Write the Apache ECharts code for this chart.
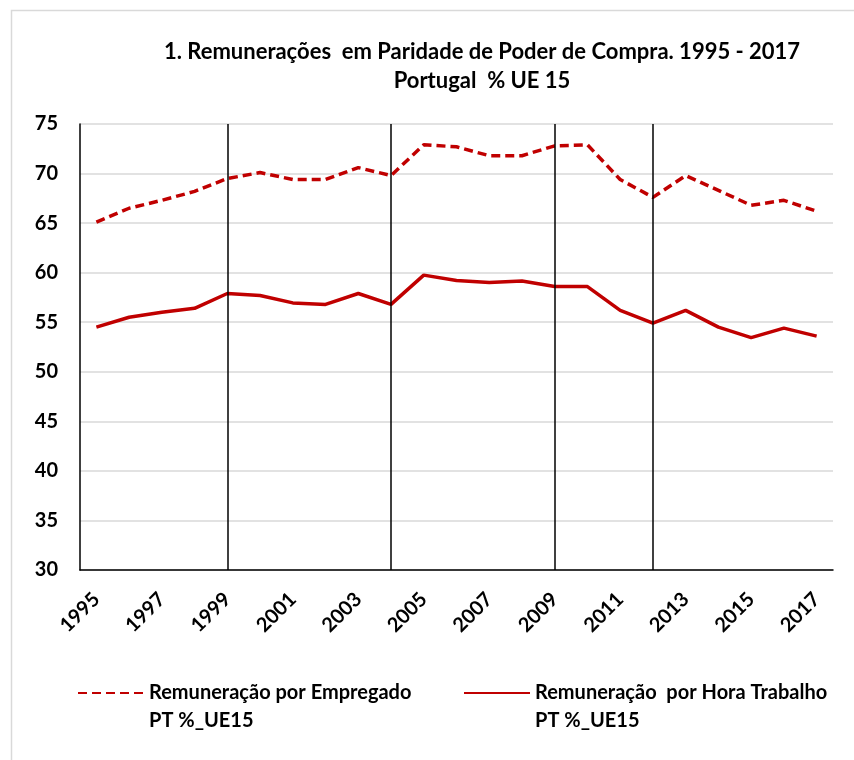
<!DOCTYPE html>
<html>
<head>
<meta charset="utf-8">
<script src="https://cdn.jsdelivr.net/npm/echarts@6/dist/echarts.min.js"></script>
<style>
  html, body { margin: 0; padding: 0; background: #fff; }
  #chart { width: 854px; height: 760px; }
</style>
</head>
<body>
<div id="chart"></div>
<script>
// Remunerações em PPC, Portugal % UE15
var years = ['1995', '1996', '1997', '1998', '1999', '2000', '2001', '2002', '2003', '2004', '2005', '2006',
  '2007', '2008', '2009', '2010', '2011', '2012', '2013', '2014', '2015', '2016', '2017'];
var porEmpregado = [65.1, 66.5, 67.3, 68.2, 69.5, 70.1, 69.4, 69.4, 70.6, 69.8, 72.9, 72.7,
  71.8, 71.8, 72.8, 72.9, 69.4, 67.6, 69.8, 68.3, 66.8, 67.3, 66.2];
var porHora = [54.5, 55.5, 56.0, 56.4, 57.9, 57.7, 56.95, 56.8, 57.9, 56.8, 59.75, 59.2,
  59.0, 59.15, 58.6, 58.6, 56.2, 54.9, 56.2, 54.5, 53.45, 54.4, 53.6];
var marcos = ['1999', '2004', '2009', '2012'];
var nomeEmpregado = 'Remuneração por Empregado\nPT %_UE15';
var nomeHora = 'Remuneração  por Hora Trabalho\nPT %_UE15';

(function () {
  var font = 'Lato, "Open Sans", sans-serif';
  var red = '#c00000';
  var chart = echarts.init(document.getElementById('chart'), null, { renderer: 'canvas' });
  var legendText = { fontFamily: font, fontSize: 20, fontWeight: 'bold', color: '#000', lineHeight: 28 };
  // linha vazia no topo para alinhar o ícone com a primeira linha do texto
  function legendFmt(n) { return '\n' + n; }

  chart.setOption({
    animation: false,
    backgroundColor: '#fff',
    graphic: [{
      type: 'rect', left: 9, top: 8, silent: true,
      shape: { width: 900, height: 800 },
      style: { fill: 'none', stroke: '#d9d9d9', lineWidth: 1.5 }
    }],
    title: {
      text: '1. Remunerações  em Paridade de Poder de Compra. 1995 - 2017\nPortugal  % UE 15',
      left: 477, top: 32, textAlign: 'center',
      textStyle: { fontFamily: font, fontSize: 22, fontWeight: 'bold', color: '#000', lineHeight: 29 }
    },
    legend: [
      { data: [nomeEmpregado], formatter: legendFmt, left: 72, top: 646, itemWidth: 66, itemHeight: 12,
        itemStyle: { opacity: 0 }, textStyle: legendText, selectedMode: false },
      { data: [nomeHora], formatter: legendFmt, left: 458, top: 646, itemWidth: 66, itemHeight: 12,
        itemStyle: { opacity: 0 }, textStyle: legendText, selectedMode: false }
    ],
    grid: { left: 80, right: 21, top: 124, bottom: 190 },
    xAxis: {
      type: 'category', data: years, boundaryGap: true,
      axisLine: { lineStyle: { color: '#000', width: 1.5 } },
      axisTick: { show: false },
      axisLabel: { interval: 1, rotate: 45, margin: 26, fontFamily: font, fontSize: 20, fontWeight: 'bold', color: '#000' }
    },
    yAxis: {
      type: 'value', min: 30, max: 75, interval: 5,
      axisLine: { show: true, lineStyle: { color: '#000', width: 1.5 } },
      axisTick: { show: false },
      axisLabel: { margin: 22, fontFamily: font, fontSize: 20, fontWeight: 'bold', color: '#000' },
      splitLine: { lineStyle: { color: '#d9d9d9', width: 1.5 } }
    },
    series: [
      {
        name: nomeEmpregado, type: 'line', data: porEmpregado, symbol: 'none',
        itemStyle: { color: red }, lineStyle: { color: red, width: 3.5, type: [9, 5] },
        markLine: {
          silent: true, symbol: 'none', label: { show: false },
          lineStyle: { color: '#000', width: 1.5, type: 'solid' },
          data: marcos.map(function (y) { return { xAxis: y }; })
        }
      },
      {
        name: nomeHora, type: 'line', data: porHora, symbol: 'none',
        itemStyle: { color: red }, lineStyle: { color: red, width: 3.5 }
      }
    ]
  });
  window.addEventListener('resize', function () { chart.resize(); });
})();
</script>
</body>
</html>
